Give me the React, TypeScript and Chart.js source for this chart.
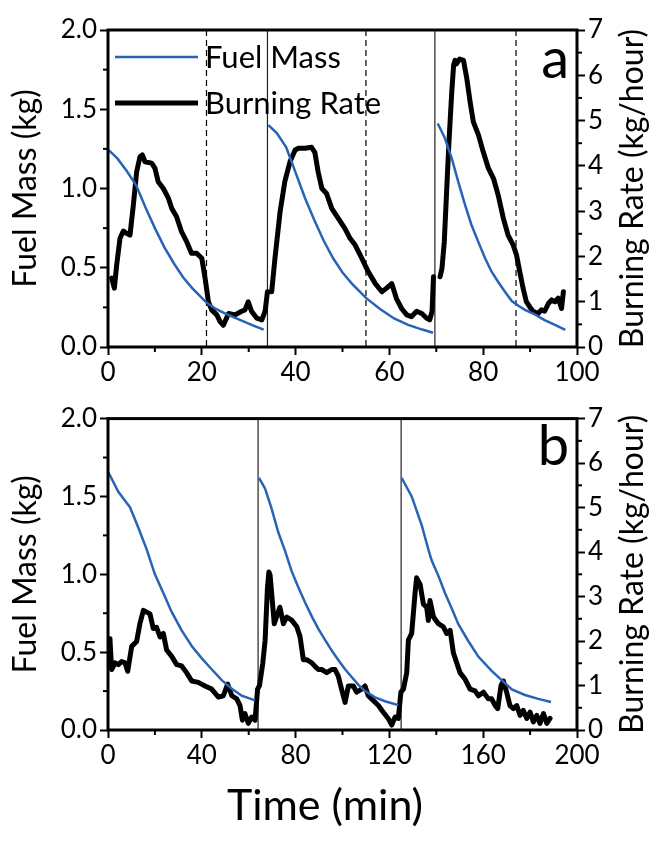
import React, { useEffect, useRef } from "react";
import { Chart, registerables } from "chart.js";

Chart.register(...registerables);

// ---------- DATA ----------
// Panel a (time in min, fuel mass in kg; null = break between burns)
const aFuelMass: [number, number | null][] = [
  [0.2, 1.24], [2, 1.19], [4, 1.11], [6, 1.02], [8, 0.88], [10, 0.75], [12, 0.63], [14, 0.53],
  [16, 0.44], [18, 0.37], [20, 0.31], [21, 0.28], [23, 0.24], [25, 0.21], [27, 0.185], [29, 0.16],
  [31, 0.135], [33.2, 0.11], [33.8, null],
  [34.2, 1.40], [36, 1.35], [38, 1.26], [40, 1.10], [42, 0.94], [44, 0.80], [46, 0.67], [48, 0.56],
  [50, 0.47], [52, 0.40], [55, 0.31], [58, 0.24], [61, 0.18], [64, 0.14], [67, 0.11], [69.3, 0.09], [69.8, null],
  [70.3, 1.41], [71.8, 1.32], [73.3, 1.19], [74.7, 1.04], [76.1, 0.90], [77.5, 0.77], [79.0, 0.66],
  [80.4, 0.56], [81.8, 0.475], [83.2, 0.41], [84.6, 0.35], [86.1, 0.29], [87.5, 0.26], [88.9, 0.234],
  [91.0, 0.206], [93.1, 0.17], [95.3, 0.139], [97.5, 0.108],
];
// Panel a burning rate (kg/hour)
const aBurningRate: [number, number | null][] = [
  [0.78, 1.52], [1.35, 1.30], [1.85, 1.81], [2.56, 2.40], [3.27, 2.56], [3.98, 2.51], [4.69, 2.47],
  [5.4, 3.13], [6.11, 3.87], [6.82, 4.20], [7.32, 4.24], [7.89, 4.09], [9.31, 4.06], [10.0, 3.95],
  [10.7, 3.65], [11.8, 3.50], [12.9, 3.28], [13.6, 3.06], [14.6, 2.88], [15.7, 2.54], [16.8, 2.32],
  [17.8, 2.07], [18.9, 2.07], [20.0, 1.96], [20.7, 1.52], [21.4, 1.0], [22.1, 0.82], [23.2, 0.71],
  [23.9, 0.56], [24.6, 0.48], [25.7, 0.74], [27.1, 0.71], [28.5, 0.79], [29.2, 0.82], [29.9, 1.0],
  [30.6, 0.79], [31.7, 0.64], [32.8, 0.60], [33.5, 0.79], [34.0, 1.22], [34.4, null],
  [34.9, 1.22], [35.6, 1.96], [36.7, 2.99], [37.7, 3.65], [38.8, 4.09], [39.9, 4.35], [40.6, 4.39],
  [42.0, 4.39], [43.4, 4.41], [44.1, 4.30], [44.8, 3.87], [45.6, 3.50], [46.6, 3.39], [47.7, 3.06],
  [49.1, 2.84], [50.5, 2.62], [51.6, 2.40], [52.7, 2.25], [54.1, 1.96], [55.5, 1.66], [57.0, 1.40],
  [58.4, 1.22], [59.4, 1.30], [60.5, 1.40], [61.5, 1.07], [62.6, 0.85], [63.7, 0.71], [64.7, 0.67],
  [65.8, 0.79], [66.9, 0.74], [67.9, 0.64], [68.6, 0.60], [69.1, 0.79], [69.4, 1.55], [70.0, null],
  [70.8, 1.55], [71.2, 1.73], [71.7, 2.32], [72.2, 3.43], [72.7, 4.53], [73.3, 5.64], [73.7, 6.23],
  [74.0, 6.33], [74.3, 6.25], [75.0, 6.36], [75.8, 6.33], [76.5, 5.93], [77.2, 5.42], [77.9, 4.97],
  [79.0, 4.68], [80.0, 4.31], [81.1, 3.95], [82.2, 3.72], [83.2, 3.35], [84.3, 2.84], [85.3, 2.47],
  [86.4, 2.25], [87.1, 2.03], [87.8, 1.66], [88.5, 1.30], [89.2, 1.00], [89.9, 0.89], [90.6, 0.79],
  [91.7, 0.74], [92.4, 0.82], [93.1, 0.79], [93.9, 0.96], [94.6, 1.04], [95.3, 1.0], [96.0, 1.08],
  [96.7, 0.85], [97.1, 1.22],
];
const aSolidLines = [34, 69.7];
const aDashedLines = [21, 55, 87];

// Panel b
const bFuelMass: [number, number | null][] = [
  [0, 1.66], [4.4, 1.53], [9.4, 1.43], [12.9, 1.30], [16.5, 1.16], [20.0, 1.00], [23.6, 0.88],
  [27.1, 0.76], [31.4, 0.64], [35.7, 0.54], [40.0, 0.46], [44.2, 0.39], [48.5, 0.32], [52.8, 0.265],
  [57.0, 0.22], [62.7, 0.19], [63.5, null],
  [64.4, 1.62], [67.0, 1.55], [69.8, 1.42], [72.6, 1.27], [75.5, 1.15], [78.3, 1.02], [81.2, 0.915],
  [84.0, 0.82], [86.9, 0.73], [89.7, 0.65], [92.5, 0.58], [95.4, 0.51], [98.2, 0.45], [101.1, 0.39],
  [103.9, 0.34], [106.8, 0.29], [109.6, 0.25], [113.9, 0.21], [118.1, 0.185], [123.8, 0.16], [124.5, null],
  [125.2, 1.62], [129.5, 1.50], [133.8, 1.315], [136.6, 1.16], [138.0, 1.09], [140.9, 0.99],
  [143.7, 0.88], [146.6, 0.78], [149.4, 0.68], [153.7, 0.57], [158.0, 0.47], [163.6, 0.38],
  [167.9, 0.32], [172.2, 0.26], [177.8, 0.225], [183.5, 0.20], [188.9, 0.18],
];
const bBurningRate: [number, number | null][] = [
  [0.5, 2.05], [0.85, 2.02], [1.56, 1.36], [3.0, 1.51], [4.4, 1.47], [5.8, 1.54], [7.25, 1.51],
  [8.4, 1.32], [10.1, 1.88], [12.2, 1.99], [13.6, 2.39], [15.1, 2.69], [16.5, 2.65], [17.9, 2.61],
  [19.3, 2.28], [20.7, 2.31], [22.2, 2.09], [23.6, 2.17], [25.0, 1.80], [27.1, 1.66], [29.3, 1.47],
  [31.4, 1.44], [33.5, 1.29], [35.7, 1.10], [38.5, 1.07], [41.4, 0.99], [44.2, 0.92], [47.1, 0.74],
  [49.2, 0.77], [51.0, 1.03], [52.8, 0.77], [54.9, 0.70], [56.3, 0.55], [57.3, 0.22], [58.4, 0.37],
  [59.8, 0.15], [61.3, 0.29], [62.7, 0.22], [63.8, 0.92], [64.6, 1.0], [66.0, 1.5], [67.0, 2.02],
  [68.0, 3.2], [68.6, 3.55], [69.1, 3.49], [70.9, 2.39], [73.3, 2.76], [74.8, 2.39], [76.2, 2.54],
  [78.3, 2.47], [80.5, 2.32], [81.9, 2.10], [83.3, 1.58], [84.7, 1.58], [86.9, 1.51], [88.3, 1.43],
  [89.7, 1.36], [91.1, 1.36], [93.3, 1.29], [95.4, 1.36], [96.8, 1.36], [98.2, 1.21], [99.6, 0.92],
  [101.1, 0.62], [102.5, 0.99], [104.6, 0.99], [106.0, 0.85], [108.2, 0.92], [109.6, 0.99],
  [111.0, 0.77], [112.4, 0.70], [115.3, 0.55], [117.4, 0.40], [119.5, 0.26], [121.0, 0.11],
  [122.4, 0.29], [123.8, 0.26], [124.9, 0.85], [126.0, 0.92], [127.4, 1.29], [128.1, 2.02],
  [129.5, 2.17], [130.9, 3.05], [131.6, 3.42], [133.1, 3.27], [134.5, 2.83], [135.9, 2.76],
  [136.6, 2.46], [137.3, 2.91], [138.8, 2.54], [140.9, 2.39], [143.0, 2.32], [144.4, 2.17],
  [145.9, 2.24], [147.3, 1.73], [148.7, 1.51], [150.1, 1.29], [152.3, 1.14], [154.4, 0.92],
  [156.5, 0.88], [158.0, 0.77], [160.1, 0.85], [162.2, 0.70], [163.6, 0.70], [165.1, 0.55],
  [166.2, 0.48], [167.6, 1.0], [168.6, 1.10], [170.0, 0.85], [171.4, 0.55], [172.9, 0.48],
  [174.3, 0.55], [175.7, 0.33], [177.1, 0.44], [178.6, 0.26], [180.0, 0.40], [181.4, 0.18],
  [182.8, 0.33], [184.2, 0.15], [185.7, 0.37], [187.1, 0.15], [188.5, 0.26],
];
const bSolidLines = [64, 125];
const bDashedLines: number[] = [];

const massTicks = { min: 0, max: 2, step: 0.5, minor: 0.25 };
const rateTicks = { min: 0, max: 7, step: 1, minor: 0.5 };
const seriesNames = ["Fuel Mass", "Burning Rate"];
const axisTitles = { mass: "Fuel Mass (kg)", rate: "Burning Rate (kg/hour)", time: "Time (min)" };
const FONT = "Lato";
const BLUE = "#2764b5";

type PanelSpec = {
  letter: string;
  mass: [number, number | null][];
  rate: [number, number | null][];
  xMax: number;
  xStep: number;
  xMinor: number;
  solid: number[];
  dashed: number[];
  legend: boolean;
  canvasH: number;
  padTop: number;
  xAxisH: number;
  xTitle: boolean;
  letterY: number;
};

function makeChart(canvas: HTMLCanvasElement, p: PanelSpec) {
  const decor = {
    id: "decor",
    beforeDatasetsDraw(chart: any) {
      const { ctx, chartArea: a, scales } = chart;
      ctx.save();
      ctx.lineWidth = 1.2;
      ctx.strokeStyle = "#222";
      p.solid.forEach((v) => {
        const x = scales.x.getPixelForValue(v);
        ctx.beginPath();
        ctx.moveTo(x, a.top);
        ctx.lineTo(x, a.bottom);
        ctx.stroke();
      });
      ctx.setLineDash([6, 4]);
      ctx.strokeStyle = "#000";
      p.dashed.forEach((v) => {
        const x = scales.x.getPixelForValue(v);
        ctx.beginPath();
        ctx.moveTo(x, a.top);
        ctx.lineTo(x, a.bottom);
        ctx.stroke();
      });
      ctx.restore();
    },
    afterDraw(chart: any) {
      const { ctx, chartArea: a, scales } = chart;
      ctx.save();
      // frame
      ctx.lineWidth = 3;
      ctx.strokeStyle = "#000";
      ctx.strokeRect(a.left, a.top, a.right - a.left, a.bottom - a.top);
      // minor ticks
      ctx.lineWidth = 2;
      for (let v = massTicks.minor; v < massTicks.max; v += massTicks.step) {
        const y = scales.y.getPixelForValue(v);
        ctx.beginPath();
        ctx.moveTo(a.left, y);
        ctx.lineTo(a.left - 5, y);
        ctx.stroke();
      }
      for (let v = rateTicks.minor; v < rateTicks.max; v += rateTicks.step) {
        const y = scales.y1.getPixelForValue(v);
        ctx.beginPath();
        ctx.moveTo(a.right, y);
        ctx.lineTo(a.right + 5, y);
        ctx.stroke();
      }
      for (let v = p.xMinor; v < p.xMax; v += p.xStep) {
        const x = scales.x.getPixelForValue(v);
        ctx.beginPath();
        ctx.moveTo(x, a.bottom);
        ctx.lineTo(x, a.bottom + 5);
        ctx.stroke();
      }
      ctx.fillStyle = "#000";
      // left axis title (reads bottom to top)
      ctx.font = `32px ${FONT}`;
      ctx.textAlign = "center";
      ctx.textBaseline = "middle";
      ctx.save();
      ctx.translate(26, (a.top + a.bottom) / 2);
      ctx.rotate(-Math.PI / 2);
      ctx.fillText(axisTitles.mass, 0, 0);
      ctx.restore();
      // right axis title (reads bottom to top)
      ctx.save();
      ctx.translate(633, (a.top + a.bottom) / 2);
      ctx.rotate(-Math.PI / 2);
      ctx.fillText(axisTitles.rate, 0, 0);
      ctx.restore();
      // bottom axis title
      if (p.xTitle) {
        ctx.font = `43px ${FONT}`;
        ctx.textAlign = "center";
        ctx.textBaseline = "alphabetic";
        ctx.fillText(axisTitles.time, 325, a.bottom + 90);
      }
      // panel letter
      ctx.font = `56px ${FONT}`;
      ctx.textAlign = "right";
      ctx.textBaseline = "alphabetic";
      ctx.fillText(p.letter, a.right - 8, p.letterY);
      // legend
      if (p.legend) {
        const items = [
          { name: seriesNames[0], color: BLUE, w: 2.5, y: a.top + 27 },
          { name: seriesNames[1], color: "#000", w: 5, y: a.top + 73 },
        ];
        ctx.font = `31px ${FONT}`;
        ctx.textAlign = "left";
        ctx.textBaseline = "middle";
        items.forEach((it) => {
          ctx.strokeStyle = it.color;
          ctx.lineWidth = it.w;
          ctx.beginPath();
          ctx.moveTo(a.left + 7, it.y);
          ctx.lineTo(a.left + 90, it.y);
          ctx.stroke();
          ctx.fillStyle = "#000";
          ctx.fillText(it.name, a.left + 97, it.y + 1);
        });
      }
      ctx.restore();
    },
  };

  const tickFont = { family: FONT, size: 26 };
  const gridOpts = {
    drawOnChartArea: false,
    drawTicks: true,
    tickLength: 8,
    tickWidth: 2,
    tickColor: "#000",
  };

  return new Chart(canvas, {
    type: "line",
    data: {
      datasets: [
        {
          label: seriesNames[0],
          data: p.mass.map(([x, y]) => ({ x, y })),
          borderColor: BLUE,
          borderWidth: 2.5,
          pointRadius: 0,
          yAxisID: "y",
          spanGaps: false,
          tension: 0,
        },
        {
          label: seriesNames[1],
          data: p.rate.map(([x, y]) => ({ x, y })),
          borderColor: "#000",
          borderWidth: 5,
          pointRadius: 0,
          yAxisID: "y1",
          spanGaps: false,
          tension: 0,
          borderJoinStyle: "round",
          borderCapStyle: "round",
        },
      ] as any,
    },
    options: {
      responsive: false,
      animation: false,
      devicePixelRatio: 1,
      layout: { padding: { top: p.padTop, left: 0, right: 0, bottom: 0 } },
      plugins: { legend: { display: false }, tooltip: { enabled: false } },
      scales: {
        x: {
          type: "linear",
          min: 0,
          max: p.xMax,
          ticks: {
            stepSize: p.xStep,
            font: tickFont,
            color: "#000",
            padding: 2,
            maxRotation: 0,
            autoSkip: false,
          },
          grid: gridOpts,
          border: { display: false },
          afterFit: (s: any) => {
            s.height = p.xAxisH;
          },
        },
        y: {
          type: "linear",
          position: "left",
          min: massTicks.min,
          max: massTicks.max,
          ticks: {
            stepSize: massTicks.step,
            font: tickFont,
            color: "#000",
            padding: 3,
            callback: (v: any) => Number(v).toFixed(1),
          },
          grid: gridOpts,
          border: { display: false },
          afterFit: (s: any) => {
            s.width = 108;
          },
        },
        y1: {
          type: "linear",
          position: "right",
          min: rateTicks.min,
          max: rateTicks.max,
          ticks: { stepSize: rateTicks.step, font: tickFont, color: "#000", padding: 3 },
          grid: gridOpts,
          border: { display: false },
          afterFit: (s: any) => {
            s.width = 74;
          },
        },
      },
    } as any,
    plugins: [decor],
  });
}

const panelA: PanelSpec = {
  letter: "a",
  mass: aFuelMass,
  rate: aBurningRate,
  xMax: 100,
  xStep: 20,
  xMinor: 10,
  solid: aSolidLines,
  dashed: aDashedLines,
  legend: true,
  canvasH: 400,
  padTop: 30,
  xAxisH: 53,
  xTitle: false,
  letterY: 78,
};

const panelB: PanelSpec = {
  letter: "b",
  mass: bFuelMass,
  rate: bBurningRate,
  xMax: 200,
  xStep: 40,
  xMinor: 20,
  solid: bSolidLines,
  dashed: bDashedLines,
  legend: false,
  canvasH: 447,
  padTop: 12,
  xAxisH: 117,
  xTitle: true,
  letterY: 65,
};

function Panel({ spec, top }: { spec: PanelSpec; top: number }) {
  const ref = useRef<HTMLCanvasElement | null>(null);
  useEffect(() => {
    if (!ref.current) return;
    const c = makeChart(ref.current, spec);
    return () => c.destroy();
  }, [spec]);
  return (
    <canvas
      ref={ref}
      width={651}
      height={spec.canvasH}
      style={{ position: "absolute", left: 0, top, width: 651, height: spec.canvasH }}
    />
  );
}

export default function App() {
  return (
    <div style={{ position: "absolute", left: 0, top: 0, width: 651, height: 847, background: "#fff" }}>
      <Panel spec={panelA} top={0} />
      <Panel spec={panelB} top={400} />
    </div>
  );
}
